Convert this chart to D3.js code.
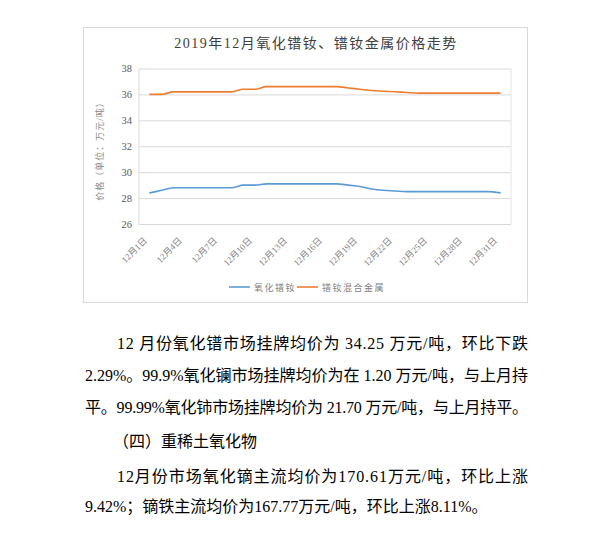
<!DOCTYPE html>
<html lang="zh">
<head>
<meta charset="utf-8">
<script src="https://d3js.org/d3.v7.min.js"></script>
<style>
  body { margin: 0; background: #fff; }
  svg { display: block; }
  .serif { font-family: "Liberation Serif", "Noto Sans CJK SC", serif; }
</style>
</head>
<body>
<script>
  var w = 611, h = 534;

  // 12月1日 .. 12月31日
  var days = d3.range(1, 32).map(function(d) { return "12月" + d + "日"; });
  var tickDays = days.filter(function(d, i) { return i % 3 === 0; });

  // 氧化镨钕 (万元/吨)
  var oxide = [28.4, 28.6, 28.8, 28.8, 28.8, 28.8, 28.8, 28.8, 29.0, 29.0,
               29.1, 29.1, 29.1, 29.1, 29.1, 29.1, 29.1, 29.0, 28.9, 28.7,
               28.6, 28.55, 28.5, 28.5, 28.5, 28.5, 28.5, 28.5, 28.5, 28.5, 28.4];
  // 镨钕混合金属 (万元/吨)
  var metal = [36.0, 36.0, 36.2, 36.2, 36.2, 36.2, 36.2, 36.2, 36.4, 36.4,
               36.6, 36.6, 36.6, 36.6, 36.6, 36.6, 36.6, 36.5, 36.4, 36.3,
               36.25, 36.2, 36.15, 36.1, 36.1, 36.1, 36.1, 36.1, 36.1, 36.1, 36.1];

  var seriesNames = ["氧化镨钕", "镨钕混合金属"];
  var yTicks = [26, 28, 30, 32, 34, 36, 38];

  var bodyLines = [
    "12 月份氧化镨市场挂牌均价为 34.25 万元/吨，环比下跌",
    "2.29%。99.9%氧化镧市场挂牌均价为在 1.20 万元/吨，与上月持",
    "平。99.99%氧化铈市场挂牌均价为 21.70 万元/吨，与上月持平。",
    "（四）重稀土氧化物",
    "12月份市场氧化镝主流均价为170.61万元/吨，环比上涨",
    "9.42%；镝铁主流均价为167.77万元/吨，环比上涨8.11%。"
  ];

  var svg = d3.select("body").append("svg")
    .attr("width", w)
    .attr("height", h)
    .attr("class", "serif");

  // chart box
  svg.append("rect")
    .attr("x", 83.5).attr("y", 27.5)
    .attr("width", 444).attr("height", 275)
    .attr("fill", "#fff")
    .attr("stroke", "#d9d9d9")
    .attr("stroke-width", 1);

  svg.append("text")
    .attr("x", 316).attr("y", 48)
    .attr("text-anchor", "middle")
    .attr("font-size", 14)
    .attr("letter-spacing", 1.5)
    .attr("fill", "#404040")
    .text("2019年12月氧化镨钕、镨钕金属价格走势");

  var plotL = 139, plotR = 511, plotT = 68.5, plotB = 224;

  var x = d3.scalePoint().domain(days).range([plotL, plotR]).padding(0.94);
  var y = d3.scaleLinear().domain([26, 38]).range([plotB, plotT]);

  // gridlines
  svg.append("g")
    .attr("transform", `translate(${plotL},0)`)
    .call(d3.axisLeft(y).tickValues(yTicks).tickSize(-(plotR - plotL)).tickFormat(""))
    .call(function(g) {
      g.select(".domain").remove();
      g.selectAll("line").attr("stroke", "#d9d9d9").attr("stroke-width", 1);
    });

  // plot frame sides
  svg.append("line").attr("x1", plotL).attr("x2", plotL).attr("y1", plotT).attr("y2", plotB)
    .attr("stroke", "#d9d9d9");
  svg.append("line").attr("x1", plotR).attr("x2", plotR).attr("y1", plotT).attr("y2", plotB)
    .attr("stroke", "#e6e6e6");

  // y tick labels
  svg.append("g")
    .attr("transform", `translate(${plotL - 4},0)`)
    .call(d3.axisLeft(y).tickValues(yTicks).tickSize(0))
    .call(function(g) {
      g.select(".domain").remove();
      g.attr("font-family", null);
      g.selectAll("text")
        .style("font-family", "'Liberation Serif', serif")
        .attr("font-size", 10.5)
        .attr("fill", "#595959");
    });

  svg.append("text")
    .attr("transform", "translate(103,149) rotate(-90)")
    .attr("text-anchor", "middle")
    .attr("font-size", 9)
    .attr("letter-spacing", 1)
    .attr("fill", "#8c8c8c")
    .text("价格（单位：万元/吨）");

  // x labels
  svg.append("g")
    .attr("transform", `translate(0,${plotB})`)
    .call(d3.axisBottom(x).tickValues(tickDays).tickSize(0))
    .call(function(g) {
      g.select(".domain").remove();
      g.attr("font-family", null);
      g.selectAll("text")
        .attr("font-size", 9)
        .attr("fill", "#7f7f7f")
        .attr("text-anchor", "end")
        .attr("dy", 0)
        .attr("transform", "translate(-5,15) rotate(-45)");
    });

  var line = d3.line()
    .x(function(d, i) { return x(days[i]); })
    .y(function(d) { return y(d); })
    .curve(d3.curveMonotoneX);

  var colors = ["#5B9BD5", "#ED7D31"];
  [oxide, metal].forEach(function(s, i) {
    svg.append("path")
      .datum(s)
      .attr("d", line)
      .attr("fill", "none")
      .attr("stroke", colors[i])
      .attr("stroke-width", 1.6)
      .attr("stroke-linecap", "round");
  });

  // legend
  var legend = [{x: 229, tx: 254}, {x: 297, tx: 322}];
  legend.forEach(function(l, i) {
    svg.append("line")
      .attr("x1", l.x).attr("x2", l.x + 21)
      .attr("y1", 287).attr("y2", 287)
      .attr("stroke", colors[i]).attr("stroke-width", 1.6);
    svg.append("text")
      .attr("x", l.tx).attr("y", 290.5)
      .attr("font-size", 9)
      .attr("letter-spacing", 1.5)
      .attr("fill", "#7f7f7f")
      .text(seriesNames[i]);
  });

  // body text
  var bodyPos = [
    {x: 117, y: 349, len: 411},
    {x: 85, y: 381, len: 443},
    {x: 85, y: 413, len: 443},
    {x: 113, y: 447, len: 0},
    {x: 117, y: 482, len: 411},
    {x: 85, y: 512, len: 0}
  ];
  bodyLines.forEach(function(t, i) {
    var p = bodyPos[i];
    var el = svg.append("text")
      .attr("x", p.x).attr("y", p.y)
      .attr("font-size", 16)
      .attr("fill", "#000")
      .text(t);
    if (p.len) el.attr("textLength", p.len).attr("lengthAdjust", "spacing");
  });
</script>
</body>
</html>
